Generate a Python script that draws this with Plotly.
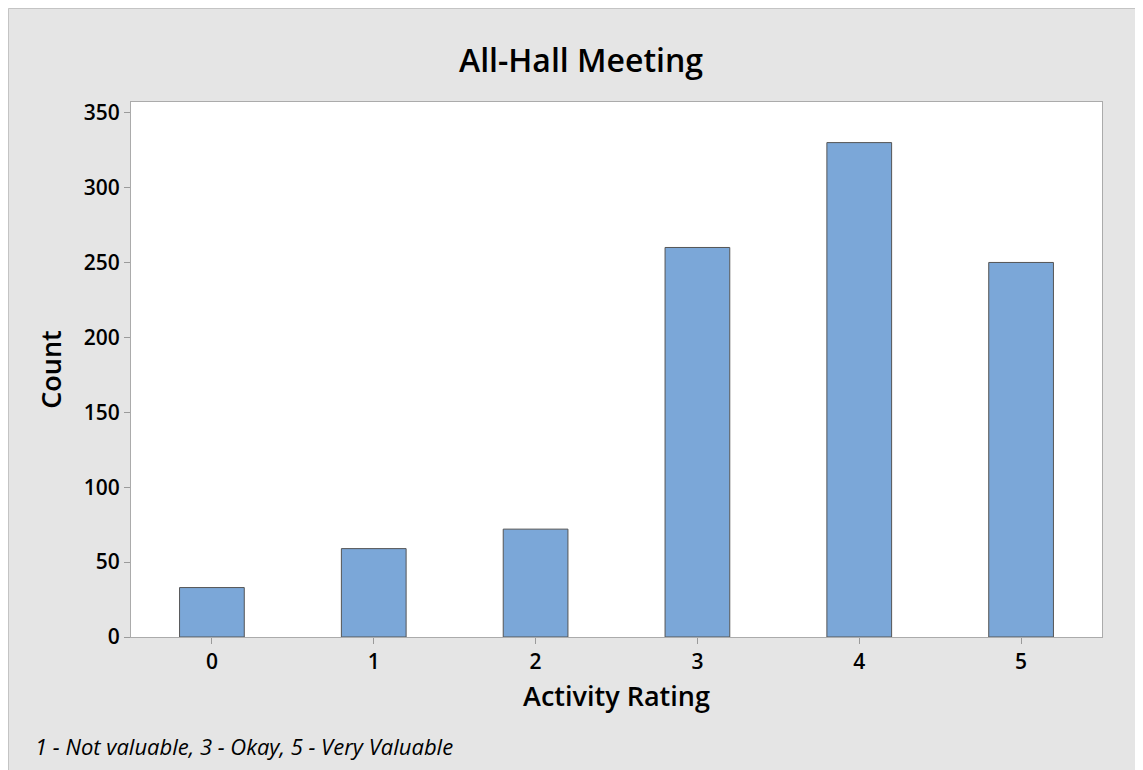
import plotly.graph_objects as go

ratings = [0, 1, 2, 3, 4, 5]
counts = [33, 59, 72, 260, 330, 250]
y_ticks = [0, 50, 100, 150, 200, 250, 300, 350]

# page has an 8px body margin, so figure coordinates are page - 8
W, H = 1135, 762
L, R, T, B = 123, 41, 94, 133
pw, ph = W - L - R, H - T - B

def px(x):
    return (x - L) / pw

def py(y):
    return (H - B - y) / ph

fig = go.Figure()
fig.add_trace(go.Bar(
    x=ratings, y=counts, width=0.4,
    marker=dict(color="#7BA7D8", line=dict(color="#555555", width=1)),
    showlegend=False,
))

font = "Open Sans, Noto Sans, sans-serif"
fig.update_layout(
    width=W, height=H,
    margin=dict(l=L, r=R, t=T, b=B, pad=0),
    paper_bgcolor="#E5E5E5",
    plot_bgcolor="#FFFFFF",
    font=dict(family=font, color="#000000"),
    title=dict(text="All-Hall Meeting", x=573 / W, xanchor="center",
               y=1 - 53 / H, yanchor="middle",
               font=dict(size=32, family=font, weight=600)),
    xaxis=dict(
        range=[-0.5, 5.5], tickmode="array", tickvals=ratings,
        ticktext=[str(r) for r in ratings],
        ticks="outside", ticklen=6, tickcolor="#9a9a9a",
        showline=True, linecolor="#ababab", mirror=True, showgrid=False,
        zeroline=False,
        tickfont=dict(size=21, weight=600),
        title=dict(text="Activity Rating", font=dict(size=27, weight=600), standoff=12),
    ),
    yaxis=dict(
        range=[0, 357.1], tickmode="array", tickvals=y_ticks,
        ticks="outside", ticklen=6, tickcolor="#9a9a9a",
        showline=True, linecolor="#ababab", mirror=True, showgrid=False,
        zeroline=False,
        tickfont=dict(size=21, weight=600),
        title=dict(text="Count", font=dict(size=27, weight=600), standoff=14),
    ),
    annotations=[dict(
        text="<i>1 - Not valuable, 3 - Okay, 5 - Very Valuable</i>",
        x=px(25), y=py(738), xref="paper", yref="paper",
        xanchor="left", yanchor="middle", showarrow=False,
        font=dict(size=22, family=font),
    )],
    shapes=[
        dict(type="line", xref="paper", yref="paper",
             x0=px(0.5), x1=px(W), y0=py(0.5), y1=py(0.5),
             line=dict(color="#C4C4C4", width=1)),
        dict(type="line", xref="paper", yref="paper",
             x0=px(0.5), x1=px(0.5), y0=py(0.5), y1=py(H),
             line=dict(color="#C4C4C4", width=1)),
    ],
)

fig.write_html("out.html")
